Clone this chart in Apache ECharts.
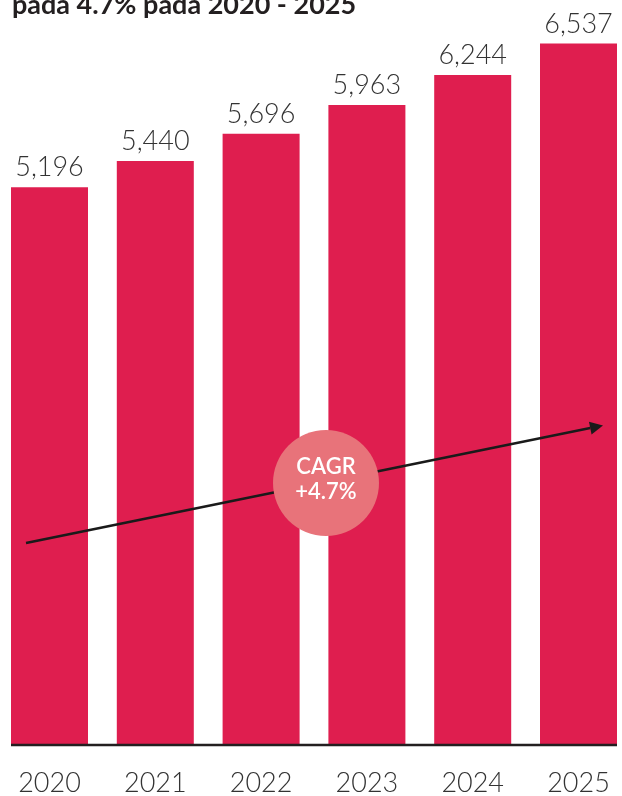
<!DOCTYPE html>
<html>
<head>
<meta charset="utf-8">
<script src="https://cdn.jsdelivr.net/npm/echarts@6/dist/echarts.min.js"></script>
<style>
  html, body { margin: 0; padding: 0; background: #ffffff; }
  #chart { width: 622px; height: 796px; }
</style>
</head>
<body>
<div id="chart"></div>
<script>
const titleText = 'pada 4.7% pada 2020 - 2025';
const years = ['2020', '2021', '2022', '2023', '2024', '2025'];
const values = [5196, 5440, 5696, 5963, 6244, 6537];
const cagrLines = ['CAGR', '+4.7%'];

const BAR_COLOR = '#df1e4f';
const FONT = 'Lato, "Open Sans", sans-serif';
const BAR_W = 77;

const chart = echarts.init(document.getElementById('chart'), null, { renderer: 'canvas' });

chart.setOption({
  animation: false,
  backgroundColor: '#ffffff',
  grid: { left: -3.4, width: 634.8, top: 0, height: 744, containLabel: false, outerBoundsMode: 'none' },
  xAxis: {
    type: 'category',
    data: years,
    axisLine: { show: false },
    axisTick: { show: false },
    axisLabel: {
      margin: 26,
      fontFamily: FONT, fontSize: 27, fontWeight: 300, color: '#333333'
    }
  },
  yAxis: {
    type: 'value',
    min: 0,
    max: 6943,
    show: false,
    splitLine: { show: false }
  },
  series: [{
    type: 'bar',
    data: values,
    barWidth: BAR_W,
    itemStyle: { color: BAR_COLOR },
    label: {
      show: true,
      position: 'top',
      distance: 6,
      fontFamily: FONT, fontSize: 27, fontWeight: 300, color: '#333333',
      formatter: p => p.value.toLocaleString('en-US')
    }
  }]
});

// Baseline spanning from first bar's left edge to last bar's right edge
const p0 = chart.convertToPixel({ gridIndex: 0 }, [0, 0]);
const p5 = chart.convertToPixel({ gridIndex: 0 }, [years.length - 1, 0]);
const baseY = p0[1] + 1;

// Arrow (CAGR trend) and circle annotation
const ax0 = 26, ay0 = 543, ax1 = 603, ay1 = 425.5;
const ang = Math.atan2(ay1 - ay0, ax1 - ax0);
const headLen = 13, headHalf = 6.5;
const bx = ax1 - headLen * Math.cos(ang), by = ay1 - headLen * Math.sin(ang);
const nx = -Math.sin(ang), ny = Math.cos(ang);

const cx = 326, cy = 483, r = 53;

chart.setOption({
  graphic: [
    {
      type: 'text', z: 12,
      style: {
        x: 12, y: 5, text: titleText,
        textAlign: 'left', textVerticalAlign: 'middle',
        fill: '#231f20', font: 'bold 27px ' + FONT
      }
    },
    {
      type: 'line', z: 10,
      shape: { x1: p0[0] - BAR_W / 2, y1: baseY, x2: p5[0] + BAR_W / 2, y2: baseY },
      style: { stroke: '#231f20', lineWidth: 2.5 }
    },
    {
      type: 'line', z: 10,
      shape: { x1: ax0, y1: ay0, x2: bx, y2: by },
      style: { stroke: '#1a1a1a', lineWidth: 2.5 }
    },
    {
      type: 'polygon', z: 10,
      shape: { points: [[ax1, ay1], [bx + nx * headHalf, by + ny * headHalf], [bx - nx * headHalf, by - ny * headHalf]] },
      style: { fill: '#1a1a1a' }
    },
    {
      type: 'circle', z: 11,
      shape: { cx: cx, cy: cy, r: r },
      style: { fill: '#e8737a' }
    },
    {
      type: 'text', z: 12,
      style: {
        x: cx, y: cy - 16, text: cagrLines[0],
        textAlign: 'center', textVerticalAlign: 'middle',
        fill: '#ffffff', font: '600 22px ' + FONT
      }
    },
    {
      type: 'text', z: 12,
      style: {
        x: cx, y: cy + 9, text: cagrLines[1],
        textAlign: 'center', textVerticalAlign: 'middle',
        fill: '#ffffff', font: '600 22px ' + FONT
      }
    }
  ]
});
</script>
</body>
</html>
